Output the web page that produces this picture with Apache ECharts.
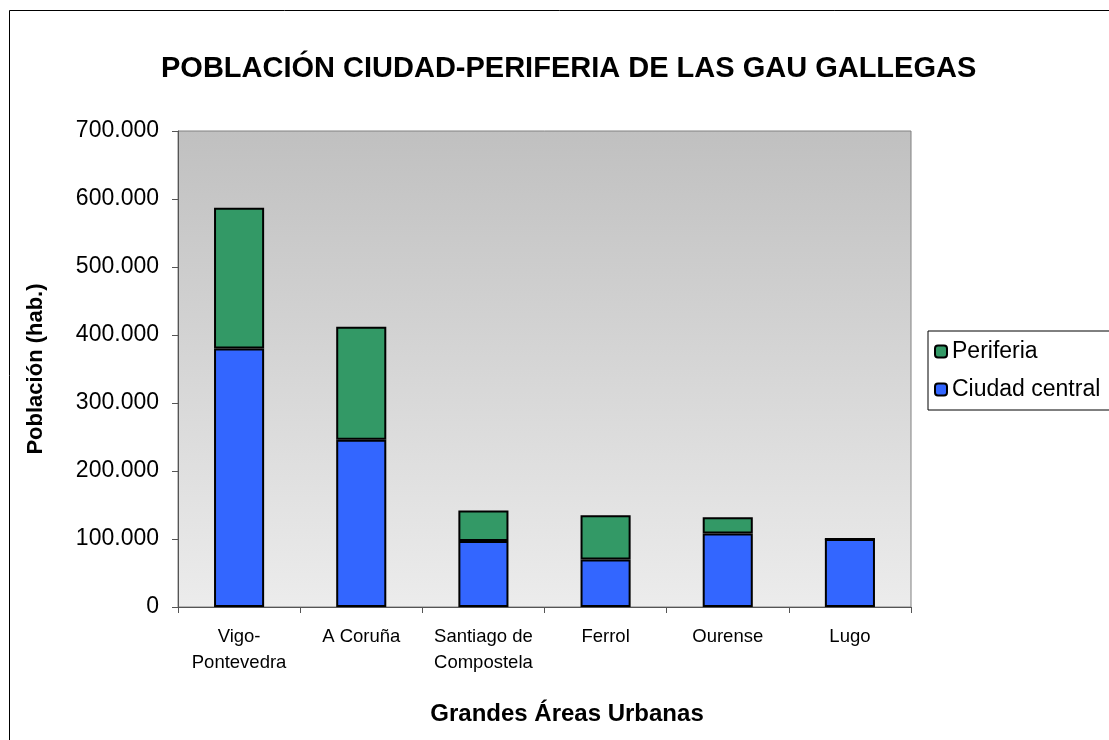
<!DOCTYPE html>
<html>
<head>
<meta charset="utf-8">
<script src="https://cdn.jsdelivr.net/npm/echarts@6/dist/echarts.min.js"></script>
<style>
  html, body { margin: 0; padding: 0; background: #fff; }
  #chart { width: 1109px; height: 740px; }
</style>
</head>
<body>
<div id="chart"></div>
<script>
// datos
const areas = ['Vigo-\nPontevedra', 'A Coruña', 'Santiago de\nCompostela', 'Ferrol', 'Ourense', 'Lugo']
const ciudadCentral = [380000, 246000, 97000, 70000, 108000, 100000]
const periferia = [207000, 166000, 45000, 65000, 24000, 0]

// formato con punto de miles
function miles(v) {
    return String(v).replace(/\B(?=(\d{3})+(?!\d))/g, '.')
}

const font = 'Liberation Sans, Arial, sans-serif'
const cs = echarts.init(document.getElementById('chart'))

const option = {
    backgroundColor: '#fff',
    animation: false,
    title: {
        text: 'POBLACIÓN CIUDAD-PERIFERIA DE LAS GAU GALLEGAS',
        left: 156,
        top: 49,
        textStyle: { fontFamily: font, fontSize: 29, fontWeight: 'bold', color: '#000' }
    },
    // marco exterior
    graphic: [
        {
            type: 'rect',
            z: -1,
            shape: { x: 9.5, y: 10.5, width: 1200, height: 800 },
            style: { fill: 'none', stroke: '#000', lineWidth: 1 }
        }
    ],
    legend: {
        orient: 'vertical',
        left: 928,
        top: 331,
        data: ['Periferia', 'Ciudad central'],
        itemWidth: 12,
        itemHeight: 12,
        itemGap: 15,
        padding: [9, 20, 9, 6],
        borderColor: '#000',
        borderWidth: 1,
        textStyle: { fontFamily: font, fontSize: 23, color: '#000' }
    },
    grid: {
        left: 178,
        top: 131,
        right: 198,
        bottom: 133,
        show: true,
        borderColor: '#808080',
        borderWidth: 1,
        backgroundColor: {
            type: 'linear', x: 0, y: 0, x2: 0, y2: 1,
            colorStops: [
                { offset: 0, color: '#c0c0c0' },
                { offset: 1, color: '#ececec' }
            ]
        }
    },
    xAxis: {
        type: 'category',
        data: areas,
        name: 'Grandes Áreas Urbanas',
        nameLocation: 'middle',
        nameGap: 95,
        nameTextStyle: { fontFamily: font, fontSize: 24, fontWeight: 'bold', color: '#000', padding: [0, 0, 0, 45] },
        axisLine: { lineStyle: { color: '#555', width: 1 } },
        axisTick: { show: true, length: 6, lineStyle: { color: '#555' } },
        axisLabel: { interval: 0, margin: 17, lineHeight: 26, fontFamily: font, fontSize: 18.5, color: '#000' }
    },
    yAxis: {
        type: 'value',
        min: 0,
        max: 700000,
        interval: 100000,
        name: 'Población (hab.)',
        nameLocation: 'middle',
        nameGap: 131,
        nameTextStyle: { fontFamily: font, fontSize: 22, fontWeight: 'bold', color: '#000' },
        axisLine: { show: true, lineStyle: { color: '#555', width: 1 } },
        axisTick: { show: true, length: 6, lineStyle: { color: '#555' } },
        splitLine: { show: false },
        axisLabel: { margin: 19, fontFamily: font, fontSize: 23, color: '#000', formatter: miles }
    },
    series: [
        {
            type: 'bar',
            name: 'Ciudad central',
            stack: 'total',
            data: ciudadCentral,
            barWidth: '41%',
            itemStyle: { color: '#3366ff', borderColor: '#000', borderWidth: 2 }
        },
        {
            type: 'bar',
            name: 'Periferia',
            stack: 'total',
            data: periferia,
            barWidth: '41%',
            itemStyle: { color: '#339966', borderColor: '#000', borderWidth: 2 }
        }
    ]
}
cs.setOption(option)
</script>
</body>
</html>
